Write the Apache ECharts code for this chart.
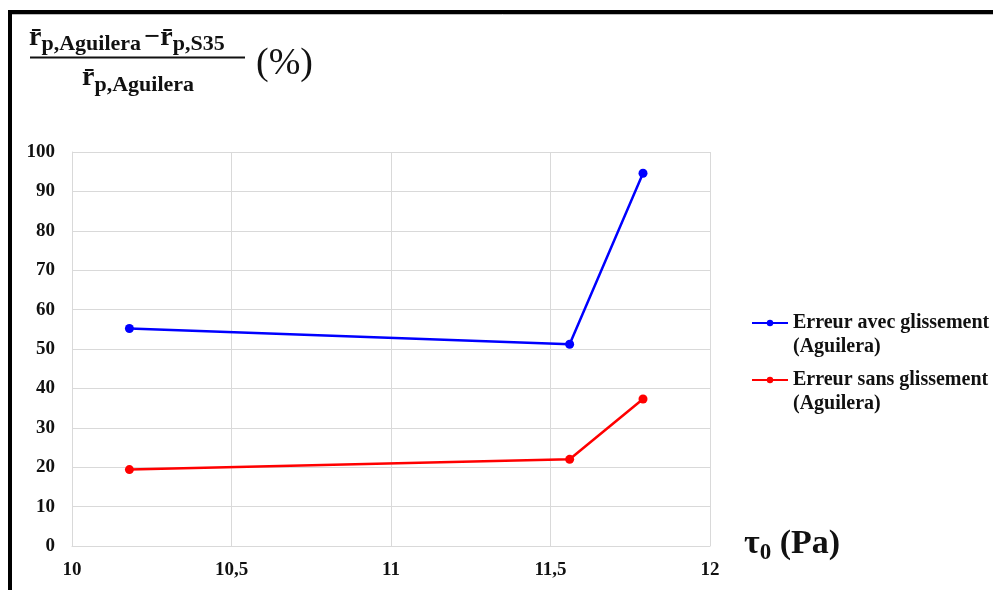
<!DOCTYPE html>
<html><head><meta charset="utf-8">
<script src="https://cdn.jsdelivr.net/npm/echarts@6/dist/echarts.min.js"></script>
<style>html,body{margin:0;padding:0;background:#fff}#c{width:993px;height:590px}</style>
</head><body><div id="c"></div>
<script>
const seriesNames = ['Erreur avec glissement\n(Aguilera)', 'Erreur sans glissement\n(Aguilera)'];
const xAvec = [10.18, 11.56, 11.79];
const yAvec = [55.2, 51.2, 94.6];
const xSans = [10.18, 11.56, 11.79];
const ySans = [19.4, 22.0, 37.3];
const xTicks = [10, 10.5, 11, 11.5, 12];
const yTicks = [0, 10, 20, 30, 40, 50, 60, 70, 80, 90, 100];

const FONT = '"Liberation Serif", "DejaVu Serif", serif';
const chart = echarts.init(document.getElementById('c'), null, {renderer: 'canvas'});
const zip = (xs, ys) => xs.map((x, i) => [x, ys[i]]);
chart.setOption({
  animation: false,
  backgroundColor: '#fff',
  grid: {left: 72, top: 152, width: 638, height: 394, containLabel: false},
  xAxis: {
    type: 'value', min: 10, max: 12, interval: 0.5,
    axisLine: {show: true, lineStyle: {color: '#d9d9d9', width: 1}},
    axisTick: {show: false},
    splitLine: {show: true, lineStyle: {color: '#d9d9d9', width: 1}},
    axisLabel: {color: '#111', fontFamily: FONT, fontWeight: 'bold', fontSize: 19, margin: 15,
      formatter: v => xTicks.includes(v) ? String(v).replace('.', ',') : ''}
  },
  yAxis: {
    type: 'value', min: 0, max: 100, interval: 10,
    axisLine: {show: true, lineStyle: {color: '#d9d9d9', width: 1}},
    axisTick: {show: false},
    splitLine: {show: true, lineStyle: {color: '#d9d9d9', width: 1}},
    axisLabel: {color: '#111', fontFamily: FONT, fontWeight: 'bold', fontSize: 19, margin: 17,
      formatter: v => yTicks.includes(v) ? String(v) : ''}
  },
  legend: {
    orient: 'vertical', left: 746, top: 282, itemGap: -15, itemWidth: 36, itemHeight: 8,
    textStyle: {color: '#111', fontFamily: FONT, fontWeight: 'bold', fontSize: 20, lineHeight: 24},
    formatter: name => '\u00a0\n' + name,
    data: seriesNames
  },
  series: [
    {name: seriesNames[0], type: 'line', data: zip(xAvec, yAvec), color: '#0000ff',
     symbol: 'circle', symbolSize: 9, lineStyle: {width: 2.5, color: '#0000ff'}, itemStyle: {color: '#0000ff'}},
    {name: seriesNames[1], type: 'line', data: zip(xSans, ySans), color: '#ff0000',
     symbol: 'circle', symbolSize: 9, lineStyle: {width: 2.5, color: '#ff0000'}, itemStyle: {color: '#ff0000'}}
  ],
  graphic: [
    {type: 'rect', shape: {x: 10, y: 12, width: 1100, height: 700}, style: {fill: 'none', stroke: '#000', lineWidth: 4}, z: 10},
    {type: 'line', shape: {x1: 12, y1: 14.5, x2: 993, y2: 14.5}, style: {stroke: '#bbb', lineWidth: 1}, z: 9},
    // numerator
    {type: 'text', left: 29, top: 24, style: {
      text: '{r|r̄}{s|p,Aguilera} {r|−r̄}{s|p,S35}',
      rich: {
        r: {fontFamily: FONT, fontWeight: 'bold', fontSize: 28, fill: '#111', verticalAlign: 'top', lineHeight: 32},
        s: {fontFamily: FONT, fontWeight: 'bold', fontSize: 22, fill: '#111', padding: [9, 0, 0, 0], lineHeight: 32, verticalAlign: 'top'}
      }}},
    {type: 'line', shape: {x1: 30, y1: 57.5, x2: 245, y2: 57.5}, style: {stroke: '#111', lineWidth: 2}},
    // denominator
    {type: 'text', left: 82, top: 64, style: {
      text: '{r|r̄}{s|p,Aguilera}',
      rich: {
        r: {fontFamily: FONT, fontWeight: 'bold', fontSize: 28, fill: '#111', lineHeight: 32, verticalAlign: 'top'},
        s: {fontFamily: FONT, fontWeight: 'bold', fontSize: 22, fill: '#111', padding: [10, 0, 0, 0], lineHeight: 32, verticalAlign: 'top'}
      }}},
    {type: 'text', left: 256, top: 45, style: {text: '(%)', font: '38px "Liberation Serif", serif', fill: '#111'}},
    // x axis name
    {type: 'text', left: 744, top: 527, style: {
      text: '{t|τ}{s|0}{t| (Pa)}',
      rich: {
        t: {fontFamily: FONT, fontWeight: 'bold', fontSize: 34, fill: '#111', lineHeight: 38, verticalAlign: 'top'},
        s: {fontFamily: FONT, fontWeight: 'bold', fontSize: 23, fill: '#111', padding: [15, 0, 0, 0], lineHeight: 38, verticalAlign: 'top'}
      }}}
  ]
});
</script>
</body></html>
